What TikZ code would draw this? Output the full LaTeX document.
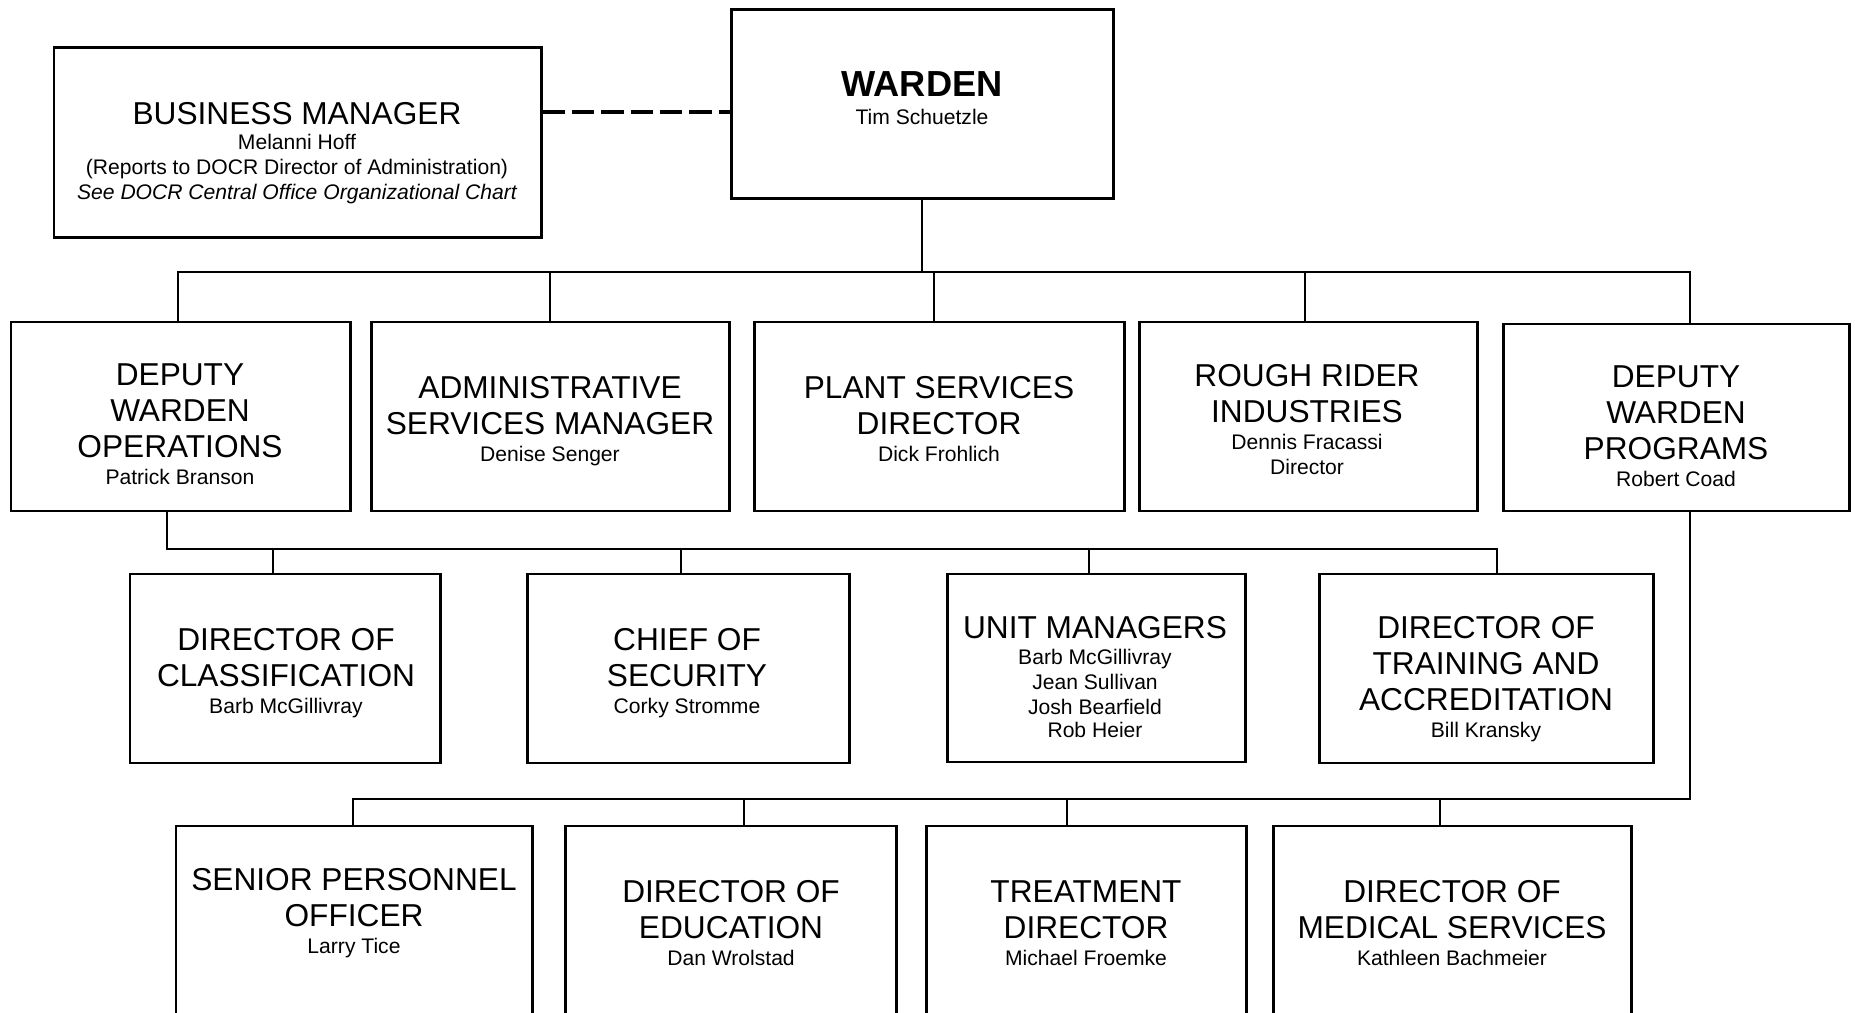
\documentclass[tikz,border=0pt]{standalone}
\usepackage{fontspec}
\setmainfont{Liberation Sans}
\usetikzlibrary{positioning}
\usetikzlibrary{fit}
\newcommand{\nm}{\fontsize{6}{7}\selectfont}
\tikzstyle{box}=[draw,line width=0.85pt,inner sep=0pt]
\tikzstyle{link}=[draw,line width=0.65pt]
\tikzstyle{dashlink}=[draw,line width=1pt,dash pattern=on 6.4pt off 1.95pt]
\tikzstyle{ttl}=[font=\fontsize{9}{10.2}\selectfont,align=center,inner sep=0pt,anchor=north]

\begin{document}
\begin{tikzpicture}[x=0.01cm,y=-0.01cm]
    \clip (0,0) rectangle (1855,1013);

    % First the boxes
    \foreach \name/\xa/\ya/\xb/\yb in {bm/54/48/541/238, warden/731/10/1113/199,
        dwo/11/322/350/511, asm/371/322/729/511, psd/754/322/1124/511, rri/1139/322/1477/511, dwp/1503/324/1849/511,
        doc/130/574/440/763, cos/527/574/849/763, um/947/574/1245/762, dta/1319/574/1653/763,
        spo/176/826/532/1100, doe/565/826/896/1100, td/926/826/1246/1100, dms/1273/826/1631/1100}
        \node[box, fit={(\xa,\ya) (\xb,\yb)}] (\name) {};

    % Texts
    \node[ttl] (bm-t) at (297,102) {BUSINESS MANAGER\\[-3.1pt]\nm Melanni Hoff\\[-3.3pt]\nm (Reports to DOCR Director of Administration)\\[-3pt]\nm\itshape See DOCR Central Office Organizational Chart};
    \node[ttl] (warden-t) at (922,71) {\fontsize{10.3}{12}\selectfont\bfseries WARDEN\\[-2.4pt]\nm Tim Schuetzle};

    \node[ttl] (dwo-t) at (180,363) {DEPUTY\\WARDEN\\OPERATIONS\\[-2.5pt]\nm Patrick Branson};
    \node[ttl] (asm-t) at (550,376) {ADMINISTRATIVE\\SERVICES MANAGER\\[-2.5pt]\nm Denise Senger};
    \node[ttl] (psd-t) at (939,376) {PLANT SERVICES\\DIRECTOR\\[-2.5pt]\nm Dick Frohlich};
    \node[ttl] (rri-t) at (1307,364) {ROUGH RIDER\\INDUSTRIES\\[-2.5pt]\nm Dennis Fracassi\\[-3.1pt]\nm Director};
    \node[ttl] (dwp-t) at (1676,365) {DEPUTY\\WARDEN\\PROGRAMS\\[-2.5pt]\nm Robert Coad};

    \node[ttl] (doc-t) at (286,628) {DIRECTOR OF\\CLASSIFICATION\\[-2.5pt]\nm Barb McGillivray};
    \node[ttl] (cos-t) at (687,628) {CHIEF OF\\SECURITY\\[-2.5pt]\nm Corky Stromme};
    \node[ttl] (um-t) at (1095,616) {UNIT MANAGERS\\[-3pt]\nm Barb McGillivray\\[-3.1pt]\nm Jean Sullivan\\[-3.1pt]\nm Josh Bearfield\\[-3.4pt]\nm Rob Heier};
    \node[ttl] (dta-t) at (1486,616) {DIRECTOR OF\\TRAINING AND\\ACCREDITATION\\[-2.5pt]\nm Bill Kransky};

    \node[ttl] (spo-t) at (354,868) {SENIOR PERSONNEL\\OFFICER\\[-2.5pt]\nm Larry Tice};
    \node[ttl] (doe-t) at (731,880) {DIRECTOR OF\\EDUCATION\\[-2.5pt]\nm Dan Wrolstad};
    \node[ttl] (td-t) at (1086,880) {TREATMENT\\DIRECTOR\\[-2.5pt]\nm Michael Froemke};
    \node[ttl] (dms-t) at (1452,880) {DIRECTOR OF\\MEDICAL SERVICES\\[-2.5pt]\nm Kathleen Bachmeier};

    % Connect the boxes
    \draw[dashlink] (bm.east |- 0,112) -- (warden.west |- 0,112);
    \coordinate (wj) at (warden.south |- 0,272);
    \draw[link] (warden.south) -- (wj);

    \draw[link] (dwo.north -| 178,0) -- (178,272) -| (dwp.north -| 1690,0);
    \foreach \n/\x in {asm/550, psd/934, rri/1305}
        \draw[link] (\x,272) -- (\n.north -| \x,0);

    \draw[link] (dwo.south -| 167,0) |- (1497,549) -- (dta.north -| 1497,0);
    \foreach \n/\x in {doc/273, cos/681, um/1089}
        \draw[link] (\x,549) -- (\n.north -| \x,0);

    \draw[link] (dwp.south -| 1690,0) |- (353,799) -- (spo.north -| 353,0);
    \foreach \n/\x in {doe/744, td/1067, dms/1440}
        \draw[link] (\x,799) -- (\n.north -| \x,0);
\end{tikzpicture}
\end{document}
